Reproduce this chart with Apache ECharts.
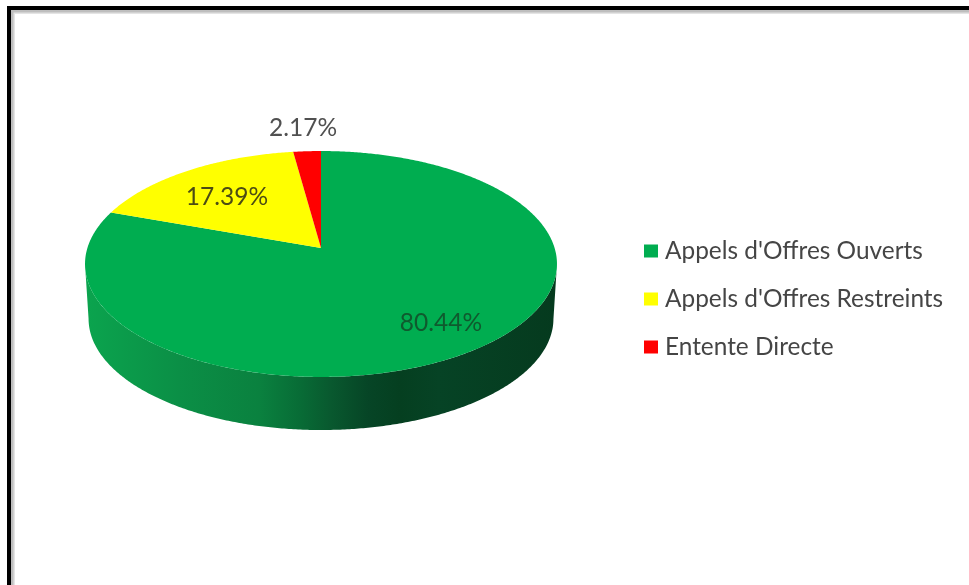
<!DOCTYPE html>
<html>
<head>
<meta charset="utf-8">
<style>html,body{margin:0;padding:0;background:#fff}#chart{width:969px;height:585px}</style>
<script src="https://cdn.jsdelivr.net/npm/echarts@6/dist/echarts.min.js"></script>
</head>
<body>
<div id="chart"></div>
<script>
// Contract award procedures, share of total (%)
const categories = ["Appels d'Offres Ouverts", "Appels d'Offres Restreints", "Entente Directe"];
const shares = [80.44, 17.39, 2.17];
const shareLabels = ['80.44%', '17.39%', '2.17%'];
const sliceColors = ['#00AD50', '#FFFF00', '#FF0000'];
const labelColors = ['#0F5A2E', '#4C4C14', '#505050'];
const labelSpots = [[441, 323], [227, 197], [303, 128]];

// Tilted disc: the unit circle goes through a perspective map centred on the pie's apex
const APEX = [321, 248];
const HALF_WIDTH = 233.6;
const HALF_HEIGHT = 110.7;
const TILT = 0.1416;
const WALL_DROP = 55;

function project(u, v, scale, dy) {
  const w = 1 + TILT * v;
  return [
    APEX[0] + (scale * HALF_WIDTH * u) / w,
    APEX[1] + dy - (scale * HALF_HEIGHT * v) / w
  ];
}

// Clockwise from twelve o'clock, in degrees
function rimPoint(deg, scale, dy) {
  const a = (deg * Math.PI) / 180;
  return project(Math.sin(a), Math.cos(a), scale, dy);
}

function sliceOutline(fromDeg, toDeg) {
  const pts = [APEX.slice()];
  for (let d = fromDeg; d < toDeg; d += 0.5) pts.push(rimPoint(d, 1, 0));
  pts.push(rimPoint(toDeg, 1, 0));
  return pts;
}

// Front of the disc's edge, between its widest points
function wallOutline() {
  const pts = [];
  const left = 261.9, right = 98.1;
  for (let d = right; d <= left; d += 0.5) pts.push(rimPoint(d, 1, 0));
  for (let d = left; d >= right; d -= 0.5) pts.push(rimPoint(d, 0.985, WALL_DROP));
  return pts;
}

const wallFill = new echarts.graphic.LinearGradient(0, 0, 1, 0, [
  { offset: 0, color: '#0BA44E' },
  { offset: 0.2, color: '#0B8F46' },
  { offset: 0.37, color: '#0A813F' },
  { offset: 0.455, color: '#086C36' },
  { offset: 0.52, color: '#09592F' },
  { offset: 0.6, color: '#064526' },
  { offset: 0.667, color: '#053F20' },
  { offset: 0.75, color: '#064325' },
  { offset: 1, color: '#053A1E' }
]);

function sliceRenderer(index) {
  const startShare = shares.slice(0, index).reduce((s, x) => s + x, 0);
  return function (params, api) {
    const total = shares.reduce((s, x) => s + x, 0);
    const from = (startShare / total) * 360;
    const to = ((startShare + api.value(0)) / total) * 360;
    const children = [];
    if (index === 0) {
      children.push({
        type: 'polygon',
        shape: { points: wallOutline() },
        style: { fill: wallFill }
      });
    }
    children.push({
      type: 'polygon',
      shape: { points: sliceOutline(from, to) },
      style: { fill: sliceColors[index] }
    });
    return { type: 'group', children };
  };
}

function labelRenderer(params, api) {
  const i = params.dataIndex;
  return {
    type: 'text',
    x: labelSpots[i][0],
    y: labelSpots[i][1],
    style: {
      text: shareLabels[i],
      fill: labelColors[i],
      font: '24.5px Lato',
      align: 'center',
      verticalAlign: 'middle'
    }
  };
}

const chart = echarts.init(document.getElementById('chart'), null, { renderer: 'canvas' });

const sliceSeries = categories.map((name, i) => ({
  type: 'custom',
  name,
  coordinateSystem: 'none',
  silent: true,
  animation: false,
  clip: false,
  itemStyle: { color: sliceColors[i] },
  data: [[shares[i]]],
  renderItem: sliceRenderer(i),
  z: 2
}));

chart.setOption({
  animation: false,
  backgroundColor: '#FFFFFF',
  legend: {
    orient: 'vertical',
    left: 639,
    top: 234,
    itemWidth: 14,
    itemHeight: 13,
    itemGap: 24,
    icon: 'rect',
    data: categories,
    selectedMode: false,
    textStyle: { color: '#454545', fontFamily: 'Lato', fontSize: 24.4, padding: [0, 0, 0, 2] }
  },
  graphic: [
    { type: 'rect', shape: { x: 11, y: 10, width: 958, height: 4 }, style: { fill: '#E4E4E4' }, silent: true },
    { type: 'rect', shape: { x: 11, y: 10, width: 4, height: 575 }, style: { fill: '#E4E4E4' }, silent: true },
    { type: 'rect', shape: { x: 11, y: 10, width: 958, height: 2.5 }, style: { fill: '#BEBEBE' }, silent: true },
    { type: 'rect', shape: { x: 11, y: 10, width: 2.5, height: 575 }, style: { fill: '#BEBEBE' }, silent: true },
    { type: 'rect', shape: { x: 7, y: 6, width: 962, height: 4 }, style: { fill: '#000' }, silent: true },
    { type: 'rect', shape: { x: 7, y: 6, width: 4, height: 579 }, style: { fill: '#000' }, silent: true }
  ],
  series: sliceSeries.concat([{
    type: 'custom',
    name: 'labels',
    coordinateSystem: 'none',
    silent: true,
    animation: false,
    clip: false,
    data: shares.map(v => [v]),
    renderItem: labelRenderer,
    z: 3
  }])
});
</script>
</body>
</html>
